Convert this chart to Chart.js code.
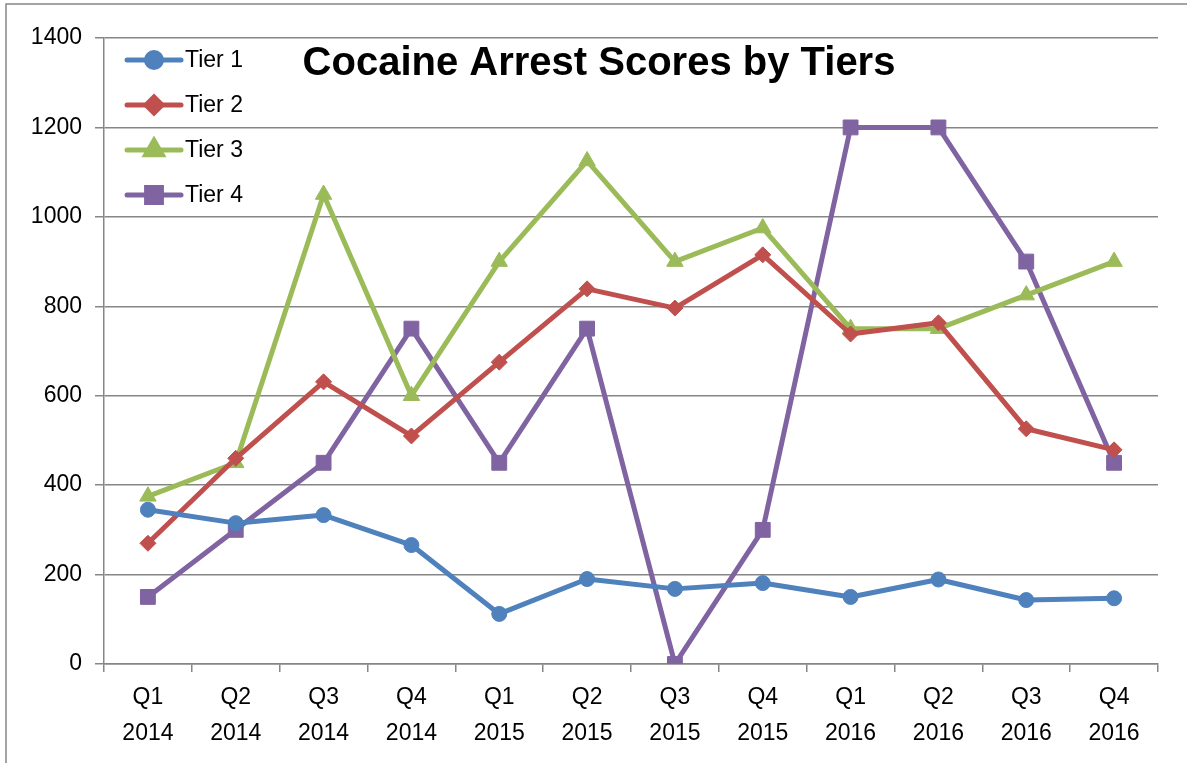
<!DOCTYPE html>
<html>
<head>
<meta charset="utf-8">
<script src="https://cdn.jsdelivr.net/npm/chart.js@4.4.1/dist/chart.umd.min.js"></script>
<style>
  html, body { margin: 0; padding: 0; background: #fff; }
  canvas { display: block; }
</style>
</head>
<body>
<canvas id="lineChart" width="1187" height="763"></canvas>
<script>
const quarterLabels = [
    ['Q1', '2014'], ['Q2', '2014'], ['Q3', '2014'], ['Q4', '2014'],
    ['Q1', '2015'], ['Q2', '2015'], ['Q3', '2015'], ['Q4', '2015'],
    ['Q1', '2016'], ['Q2', '2016'], ['Q3', '2016'], ['Q4', '2016']
];
const tier1 = [345, 315, 333, 266, 112, 190, 168, 181, 150, 189, 143, 147];
const tier2 = [270, 460, 631, 510, 675, 839, 796, 915, 738, 763, 526, 479];
const tier3 = [375, 450, 1050, 600, 900, 1125, 900, 975, 750, 750, 825, 900];
const tier4 = [150, 300, 450, 750, 450, 750, 0, 300, 1200, 1200, 900, 450];
const seriesNames = ['Tier 1', 'Tier 2', 'Tier 3', 'Tier 4'];
const chartTitle = 'Cocaine Arrest Scores by Tiers';

const FONT = '"Liberation Sans", Arial, sans-serif';
const GRID = '#868686';

function series(label, data, color, pointStyle, radius) {
    return {
        label: label,
        data: data,
        borderColor: color,
        backgroundColor: color,
        borderWidth: 5,
        borderJoinStyle: 'round',
        borderCapStyle: 'round',
        pointStyle: pointStyle,
        pointRadius: radius,
        pointHoverRadius: radius,
        pointBorderWidth: 1,
        tension: 0
    };
}

// frame round the whole chart (only left and top edges are visible)
const framePlugin = {
    id: 'frame',
    beforeDraw(chart) {
        const ctx = chart.ctx;
        ctx.save();
        ctx.strokeStyle = GRID;
        ctx.lineWidth = 1.5;
        ctx.beginPath();
        ctx.moveTo(6, chart.height);
        ctx.lineTo(6, 4);
        ctx.lineTo(chart.width, 4);
        ctx.stroke();
        ctx.restore();
    }
};

// title and legend sit inside the plot area
const insidePlugin = {
    id: 'inside',
    afterDatasetsDraw(chart) {
        const ctx = chart.ctx;
        const area = chart.chartArea;
        ctx.save();
        ctx.fillStyle = '#000';
        ctx.font = 'bold 40px ' + FONT;
        ctx.textAlign = 'center';
        ctx.textBaseline = 'middle';
        ctx.fillText(chartTitle, 599, 64);

        ctx.font = '23px ' + FONT;
        ctx.textAlign = 'left';
        chart.data.datasets.forEach((ds, i) => {
            const y = area.top + 22 + i * 45;
            ctx.strokeStyle = ds.borderColor;
            ctx.lineWidth = 5;
            ctx.lineCap = 'round';
            ctx.beginPath();
            ctx.moveTo(127, y);
            ctx.lineTo(181, y);
            ctx.stroke();
            ctx.fillStyle = ds.backgroundColor;
            Chart.helpers.drawPoint(ctx, {
                pointStyle: ds.pointStyle,
                radius: ds.pointRadius,
                borderWidth: 1,
                rotation: 0
            }, 154, y);
            ctx.fill();
            ctx.fillStyle = '#000';
            ctx.fillText(ds.label, 185, y + 1);
        });
        ctx.restore();
    }
};

new Chart(document.getElementById('lineChart'), {
    type: 'line',
    data: {
        labels: quarterLabels,
        datasets: [
            series(seriesNames[0], tier1, '#4F81BD', 'circle', 7.5),
            series(seriesNames[1], tier2, '#C0504D', 'rectRot', 8),
            series(seriesNames[2], tier3, '#9BBB59', 'triangle', 9.5),
            series(seriesNames[3], tier4, '#8064A2', 'rect', 10.5)
        ]
    },
    options: {
        responsive: false,
        animation: false,
        devicePixelRatio: 1,
        layout: {
            padding: { top: 38, right: 29, bottom: 0, left: 0 }
        },
        plugins: {
            legend: { display: false },
            title: { display: false },
            tooltip: { enabled: false }
        },
        scales: {
            x: {
                offset: true,
                afterFit(scale) { scale.height = 99; },
                grid: {
                    offset: true,
                    drawOnChartArea: false,
                    drawTicks: true,
                    tickLength: 8,
                    color: GRID,
                    lineWidth: 1.5
                },
                border: { color: GRID, width: 1.5 },
                ticks: {
                    color: '#000',
                    padding: 8,
                    maxRotation: 0,
                    autoSkip: false,
                    font: { family: FONT, size: 23, lineHeight: 1.55 }
                }
            },
            y: {
                min: 0,
                max: 1400,
                afterFit(scale) { scale.width = 104; },
                grid: {
                    color: GRID,
                    lineWidth: 1.5,
                    tickLength: 9
                },
                border: { color: GRID, width: 1.5 },
                ticks: {
                    stepSize: 200,
                    color: '#000',
                    padding: 13,
                    font: { family: FONT, size: 23 },
                    callback: (value) => String(value)
                }
            }
        }
    },
    plugins: [framePlugin, insidePlugin]
});
</script>
</body>
</html>
